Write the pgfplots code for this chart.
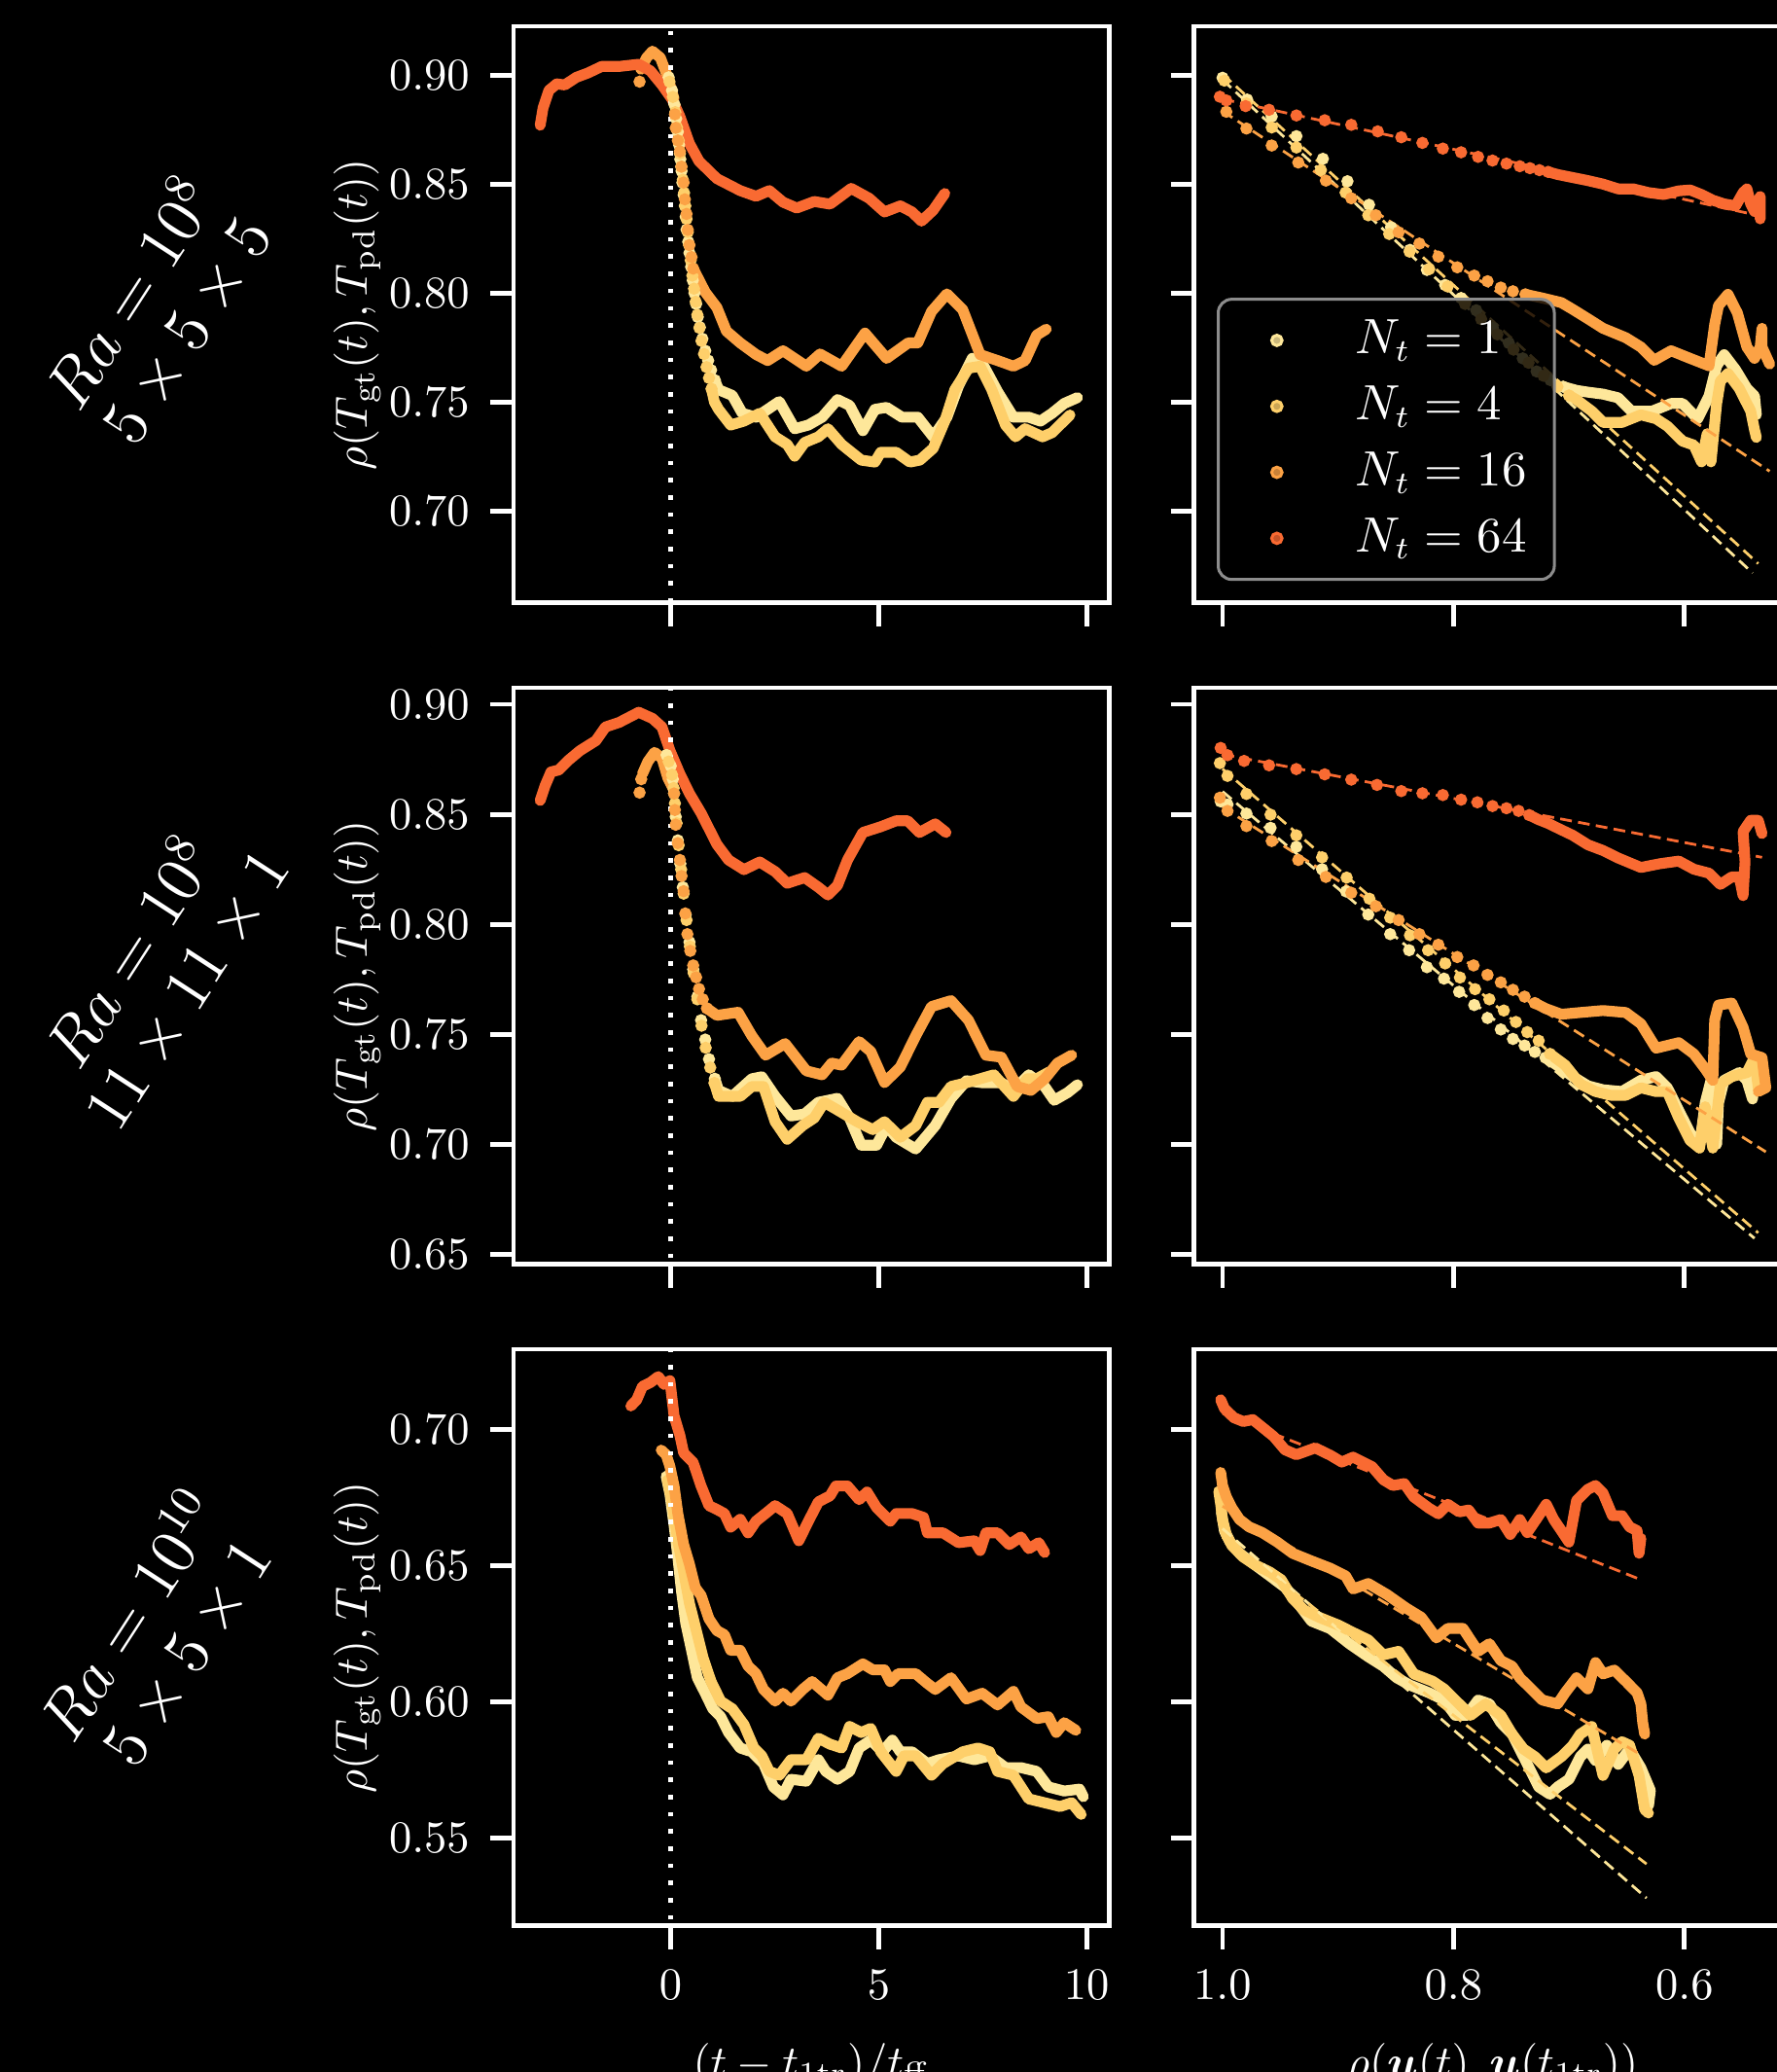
\documentclass[border=0pt]{standalone}
\usepackage{pgfplots}
\pgfplotsset{compat=1.18}
\usepackage{amsmath,bm}
\definecolor{c1}{HTML}{FEE79A}
\definecolor{c4}{HTML}{FECF6A}
\definecolor{c16}{HTML}{FCA245}
\definecolor{c64}{HTML}{F96A32}
\tikzset{rowlab/.style={white, rotate=57, align=center, font=\fontsize{13.6}{14.7}\selectfont}}
\pgfplotsset{
  base/.style={
    scale only axis, width=131.73pt, height=127.41pt, anchor=south west,
    axis line style={white, line width=1pt},
    tick style={white, line width=1pt},
    major tick length=5.2pt, tick align=outside,
    xtick pos=bottom, ytick pos=left,
    ticklabel style={white, font=\fontsize{10}{12}\selectfont},
    xticklabel style={yshift=-1.2pt},
    yticklabel style={xshift=-1pt,/pgf/number format/.cd, fixed, fixed zerofill, precision=2},
    label style={white, font=\fontsize{10}{12}\selectfont},
    clip=true,
  },
  leftcol/.style={base, xmin=-3.78, xmax=10.55, xtick={0,5,10},
    ylabel={$\rho(T_{\mathrm{gt}}(t),T_{\mathrm{pd}}(t))$},
    ylabel style={at={(axis description cs:-0.2627,0.5)}, anchor=center}},
  rightcol/.style={base, x dir=reverse, xmin=0.5085, xmax=1.0246, xtick={1.0,0.8,0.6},
    yticklabels={},
    xticklabel style={/pgf/number format/.cd, fixed, fixed zerofill, precision=1}},
  dense/.style={line width=2.4pt, line join=round, line cap=round, no marks, forget plot},
  sparse/.style={only marks, mark=*, mark size=1.15pt, forget plot},
  fit/.style={line width=0.6pt, dash pattern=on 2.6pt off 1.4pt, no marks, forget plot},
  vline/.style={white, line width=1pt, dash pattern=on 1pt off 2.8pt, no marks, forget plot},
}
\begin{document}
\begin{tikzpicture}
\fill[black] (0pt,0pt) rectangle (392.8pt,457.95pt);
\useasboundingbox (0pt,0pt) rectangle (392.8pt,457.95pt);
\clip (0pt,0pt) rectangle (392.8pt,457.95pt);

\node[rowlab] at (34.8pt,389.2pt) {$Ra=10^{8}$\\$5\times5\times5$};
\node[rowlab] at (34.8pt,243.5pt) {$Ra=10^{8}$\\$11\times11\times1$};
\node[rowlab] at (34.8pt,97.0pt) {$Ra=10^{10}$\\$5\times5\times1$};

% ================= ROW 1 LEFT
\begin{axis}[leftcol, at={(113.52pt,324.71pt)}, ymin=0.6578, ymax=0.9224,
  ytick={0.70,0.75,0.80,0.85,0.90}, xticklabels={}]
\addplot[sparse,c1] coordinates {(-0.05,0.899)(0.03,0.893)(0.09,0.8865)(0.13,0.880)(0.17,0.874)(0.20,0.868)(0.23,0.8614)(0.26,0.856)(0.28,0.8507)(0.31,0.845)(0.34,0.840)(0.36,0.835)(0.38,0.8291)(0.42,0.8235)(0.45,0.8184)(0.49,0.812)(0.53,0.8058)(0.57,0.800)(0.61,0.795)(0.65,0.789)(0.70,0.7843)(0.76,0.779)(0.83,0.7735)(0.90,0.769)(0.97,0.7646)(1.06,0.760)};
\addplot[dense,c1] coordinates {(1.06,0.760)(1.15,0.7556)(1.48,0.753)(1.72,0.7448)(2.05,0.743)(2.61,0.7502)(2.98,0.7377)(3.31,0.7394)(3.64,0.743)(4.01,0.7511)(4.30,0.7484)(4.62,0.7368)(4.91,0.7466)(5.19,0.7475)(5.56,0.743)(5.94,0.743)(6.31,0.734)(6.64,0.743)(6.92,0.7574)(7.25,0.770)(7.53,0.7664)(7.86,0.7547)(8.24,0.743)(8.61,0.743)(8.89,0.7412)(9.17,0.7448)(9.46,0.7493)(9.78,0.752)};
\addplot[sparse,c4] coordinates {(-0.03,0.897)(0.05,0.890)(0.11,0.883)(0.15,0.876)(0.19,0.870)(0.22,0.864)(0.25,0.858)(0.29,0.852)(0.32,0.846)(0.35,0.840)(0.38,0.834)(0.41,0.828)(0.44,0.822)(0.48,0.815)(0.52,0.808)(0.56,0.802)(0.60,0.796)(0.64,0.790)(0.69,0.784)(0.74,0.778)(0.80,0.772)(0.86,0.766)(0.92,0.761)(0.98,0.756)};
\addplot[dense,c4] coordinates {(0.98,0.756)(1.05,0.750)(1.15,0.7466)(1.44,0.7394)(1.76,0.7412)(2.14,0.7448)(2.51,0.734)(2.80,0.7305)(2.98,0.7251)(3.22,0.7314)(3.55,0.734)(3.78,0.7377)(4.11,0.7305)(4.58,0.7233)(4.91,0.7224)(5.05,0.7269)(5.42,0.7269)(5.75,0.7224)(5.99,0.7233)(6.31,0.7287)(6.59,0.7412)(6.83,0.7556)(7.16,0.7655)(7.44,0.7664)(7.72,0.7556)(8.05,0.7394)(8.29,0.734)(8.52,0.7377)(8.94,0.734)(9.17,0.7359)(9.60,0.744)};
\addplot[sparse,c16] coordinates {(-0.75,0.897)(0.10,0.882)(0.12,0.8758)(0.17,0.870)(0.22,0.865)(0.26,0.858)(0.31,0.8507)(0.34,0.843)(0.38,0.8363)(0.41,0.829)(0.45,0.822)(0.50,0.8165)(0.54,0.8112)};
\addplot[dense,c16] coordinates {(-0.72,0.9027)(-0.58,0.908)(-0.44,0.911)(-0.25,0.908)(-0.07,0.899)(0.08,0.889)};
\addplot[dense,c16] coordinates {(0.54,0.8112)(0.83,0.8004)(1.11,0.7933)(1.34,0.7825)(1.67,0.7771)(2.05,0.7718)(2.33,0.769)(2.70,0.7735)(3.26,0.7664)(3.59,0.772)(4.11,0.7664)(4.67,0.7816)(5.19,0.7700)(5.71,0.7771)(5.94,0.7771)(6.27,0.7915)(6.64,0.7996)(7.02,0.7924)(7.44,0.7717)(7.86,0.769)(8.24,0.7664)(8.52,0.769)(8.80,0.7807)(9.03,0.7834)};
\addplot[dense,c64] coordinates {(-3.14,0.877)(-3.07,0.885)(-2.93,0.893)(-2.74,0.896)(-2.55,0.8955)(-2.27,0.899)(-1.99,0.901)(-1.66,0.904)(-1.24,0.904)(-0.77,0.905)(-0.49,0.902)(-0.21,0.8955)(0.03,0.889)(0.22,0.881)(0.45,0.8686)(0.68,0.8605)(1.11,0.8525)(1.67,0.847)(2.05,0.8444)(2.37,0.847)(2.70,0.8417)(3.03,0.839)(3.45,0.842)(3.83,0.8408)(4.34,0.848)(4.77,0.8435)(5.14,0.8372)(5.52,0.840)(5.80,0.8372)(6.03,0.833)(6.31,0.838)(6.59,0.8457)};
\addplot[vline] coordinates {(0,0.5)(0,1.0)};
\end{axis}

% ================= ROW 1 RIGHT
\begin{axis}[rightcol, at={(263.96pt,324.71pt)}, ymin=0.6578, ymax=0.9224,
  ytick={0.70,0.75,0.80,0.85,0.90}, xticklabels={},
  legend style={at={(0.038,0.038)}, anchor=south west, draw=white!55!black, fill=black,
    fill opacity=0.8, text opacity=1, rounded corners=3pt, line width=0.65pt,
    text=white, font=\fontsize{10.5}{12.5}\selectfont, inner xsep=4.1pt, inner ysep=2.6pt,
    /tikz/row sep=1.6pt, /tikz/column sep=6.5pt},
  legend cell align=left]
\addlegendimage{legend image code/.code={\path (0cm,0cm) -- (0.6cm,0cm); \fill[c1] (0.3cm,0cm) circle (1.15pt);}}
\addlegendimage{legend image code/.code={\path (0cm,0cm) -- (0.6cm,0cm); \fill[c4] (0.3cm,0cm) circle (1.15pt);}}
\addlegendimage{legend image code/.code={\path (0cm,0cm) -- (0.6cm,0cm); \fill[c16] (0.3cm,0cm) circle (1.15pt);}}
\addlegendimage{legend image code/.code={\path (0cm,0cm) -- (0.6cm,0cm); \fill[c64] (0.3cm,0cm) circle (1.15pt);}}
\legend{$N_t=1$,$N_t=4$,$N_t=16$,$N_t=64$}
\addplot[sparse,c1] coordinates {(1.0,0.8988)(0.9787,0.8888)(0.9574,0.881)(0.936,0.872)(0.9131,0.8616)(0.8918,0.8513)(0.8731,0.8405)(0.8541,0.8302)(0.8377,0.8198)(0.8230,0.8106)(0.8072,0.8037)(0.7934,0.7977)(0.7803,0.7921)(0.766,0.784)(0.752,0.777)(0.740,0.770)(0.728,0.7640)(0.716,0.7600)(0.705,0.7570)};
\addplot[dense,c1] coordinates {(0.705,0.7570)(0.6934,0.7553)(0.6836,0.7545)(0.6705,0.7536)(0.6574,0.7519)(0.6459,0.7458)(0.6279,0.7458)(0.6115,0.7493)(0.6016,0.7493)(0.5885,0.7423)(0.5787,0.7527)(0.5721,0.7666)(0.5656,0.7717)(0.5557,0.7648)(0.5459,0.7562)(0.5393,0.7527)(0.5377,0.7441)};
\addplot[sparse,c4] coordinates {(0.9984,0.8975)(0.9793,0.8870)(0.9574,0.8760)(0.936,0.8668)(0.9148,0.8564)(0.8934,0.8461)(0.8738,0.8357)(0.8557,0.8271)(0.838,0.8190)(0.821,0.8110)(0.805,0.8030)(0.790,0.7950)(0.776,0.7880)(0.762,0.7810)(0.748,0.7740)(0.735,0.7680)(0.722,0.7620)(0.710,0.7570)(0.700,0.7530)};
\addplot[dense,c4] coordinates {(0.700,0.7530)(0.6934,0.7510)(0.6803,0.7458)(0.6705,0.7406)(0.6541,0.7406)(0.6377,0.7441)(0.6246,0.7423)(0.6148,0.7389)(0.6016,0.7320)(0.5918,0.7302)(0.5852,0.7225)(0.5803,0.7354)(0.5770,0.7225)(0.5721,0.7493)(0.5689,0.7596)(0.5623,0.7631)(0.5525,0.7562)(0.5426,0.7458)(0.5393,0.7372)(0.5377,0.7337)};
\addplot[sparse,c16] coordinates {(0.9967,0.8832)(0.9793,0.8755)(0.9574,0.8677)(0.9344,0.8599)(0.9105,0.8516)(0.8885,0.8435)(0.8672,0.8357)(0.8475,0.8279)(0.8295,0.8227)(0.8131,0.8167)(0.7967,0.8118)(0.7820,0.808)(0.7705,0.8054)(0.7590,0.8025)(0.7485,0.8008)(0.7377,0.7994)};
\addplot[dense,c16] coordinates {(0.7377,0.7994)(0.7230,0.7977)(0.7066,0.7956)(0.6967,0.7925)(0.6836,0.7882)(0.6705,0.7838)(0.6508,0.7795)(0.6377,0.7752)(0.6262,0.7691)(0.6115,0.7735)(0.5951,0.77)(0.5787,0.7666)(0.5738,0.7856)(0.5705,0.7942)(0.5623,0.7994)(0.5541,0.7908)(0.5459,0.7752)(0.5393,0.77)(0.5344,0.7752)(0.5328,0.7838)(0.5328,0.7752)(0.5262,0.7674)};
\addplot[sparse,c64] coordinates {(1.0023,0.8901)(0.9967,0.8884)(0.980,0.8858)(0.9597,0.8841)(0.936,0.8815)(0.9115,0.8793)(0.8885,0.8772)(0.8656,0.8742)(0.8452,0.8715)(0.8269,0.8689)(0.8092,0.8663)(0.7934,0.8646)(0.7787,0.8625)(0.7662,0.8608)(0.7541,0.8594)(0.7426,0.8582)(0.7338,0.8573)(0.7256,0.8564)(0.7180,0.8556)};
\addplot[dense,c64] coordinates {(0.7180,0.8556)(0.7098,0.8544)(0.6967,0.853)(0.6836,0.8516)(0.6705,0.8500)(0.6574,0.8478)(0.6443,0.8478)(0.6311,0.8461)(0.6180,0.8452)(0.6049,0.8469)(0.5951,0.8473)(0.5852,0.8452)(0.5754,0.8426)(0.5656,0.8409)(0.5557,0.8400)(0.5492,0.8461)(0.5459,0.8478)(0.5426,0.8409)(0.5393,0.8374)(0.5344,0.8443)(0.5344,0.834)};
\addplot[fit,c1] coordinates {(1.0,0.8979)(0.541,0.6715)};
\addplot[fit,c4] coordinates {(1.0,0.9005)(0.5361,0.6758)};
\addplot[fit,c16] coordinates {(1.0,0.8835)(0.5262,0.7182)};
\addplot[fit,c64] coordinates {(1.0,0.889)(0.536,0.8356)};
\end{axis}

% ================= ROW 2 LEFT
\begin{axis}[leftcol, at={(113.52pt,178.51pt)}, ymin=0.6456, ymax=0.9075,
  ytick={0.65,0.70,0.75,0.80,0.85,0.90}, xticklabels={}]
\addplot[sparse,c1] coordinates {(-0.1,0.877)(0.0,0.872)(0.05,0.866)(0.08,0.8595)(0.12,0.8489)(0.17,0.8382)(0.23,0.8276)(0.29,0.8169)(0.36,0.8045)(0.45,0.792)(0.54,0.7796)(0.64,0.7672)(0.73,0.7565)(0.83,0.7477)(0.92,0.7388)(1.06,0.7299)};
\addplot[dense,c1] coordinates {(1.06,0.7299)(1.15,0.7246)(1.48,0.7219)(1.95,0.7299)(2.19,0.7308)(2.51,0.7219)(2.89,0.713)(3.22,0.7139)(3.55,0.7192)(4.01,0.721)(4.30,0.7121)(4.58,0.6997)(4.95,0.6997)(5.19,0.7086)(5.42,0.7033)(5.89,0.698)(6.36,0.7086)(6.74,0.721)(7.11,0.729)(7.49,0.7281)(7.95,0.7281)(8.24,0.7246)(8.61,0.7317)(8.99,0.7264)(9.22,0.7201)(9.55,0.7237)(9.78,0.7272)};
\addplot[sparse,c4] coordinates {(-0.05,0.874)(0.03,0.868)(0.07,0.862)(0.10,0.855)(0.14,0.846)(0.19,0.836)(0.25,0.825)(0.31,0.814)(0.38,0.802)(0.46,0.790)(0.55,0.778)(0.64,0.766)(0.74,0.754)(0.84,0.744)(0.95,0.735)(1.05,0.728)};
\addplot[dense,c4] coordinates {(1.05,0.728)(1.15,0.7219)(1.67,0.7219)(1.95,0.7264)(2.23,0.7264)(2.51,0.7104)(2.80,0.7024)(3.17,0.7086)(3.45,0.7121)(3.69,0.7192)(4.01,0.7157)(4.48,0.7104)(4.86,0.7068)(5.14,0.7104)(5.52,0.7033)(5.89,0.7086)(6.17,0.7192)(6.45,0.7192)(6.74,0.7264)(7.11,0.7281)(7.77,0.7317)(8.24,0.7219)(8.57,0.7299)(8.80,0.7299)(9.10,0.733)};
\addplot[sparse,c16] coordinates {(-0.75,0.8599)(-0.71,0.866)(0.08,0.8595)(0.10,0.852)(0.12,0.8453)(0.17,0.837)(0.22,0.8293)(0.26,0.822)(0.31,0.8151)(0.35,0.805)(0.40,0.7956)(0.47,0.788)(0.54,0.7814)(0.61,0.776)(0.68,0.7707)(0.77,0.766)(0.87,0.7619)};
\addplot[dense,c16] coordinates {(-0.68,0.8684)(-0.55,0.874)(-0.39,0.8782)(-0.21,0.8755)(-0.07,0.8666)(0.05,0.862)};
\addplot[dense,c16] coordinates {(0.87,0.7619)(1.11,0.7587)(1.62,0.7601)(1.95,0.7494)(2.28,0.7406)(2.75,0.7459)(3.26,0.7335)(3.64,0.7317)(3.87,0.737)(4.11,0.7361)(4.53,0.7468)(4.81,0.7423)(5.14,0.7282)(5.52,0.7352)(5.89,0.7494)(6.27,0.7627)(6.74,0.7654)(7.16,0.7565)(7.58,0.7406)(7.95,0.7397)(8.33,0.7264)(8.66,0.7246)(9.0,0.730)(9.3,0.737)(9.64,0.7406)};
\addplot[dense,c64] coordinates {(-3.14,0.8563)(-3.02,0.8631)(-2.88,0.8693)(-2.69,0.8702)(-2.46,0.8746)(-2.18,0.879)(-1.80,0.8835)(-1.57,0.8897)(-1.24,0.8918)(-0.77,0.8964)(-0.44,0.8936)(-0.21,0.8897)(-0.02,0.879)(0.22,0.8684)(0.45,0.8595)(0.73,0.8506)(1.11,0.8364)(1.39,0.8293)(1.76,0.8249)(2.14,0.8284)(2.51,0.824)(2.80,0.8187)(3.22,0.8213)(3.55,0.8169)(3.78,0.8134)(4.01,0.8178)(4.25,0.8293)(4.62,0.8418)(5.05,0.8444)(5.42,0.8471)(5.70,0.8471)(5.98,0.8418)(6.36,0.8457)(6.62,0.8418)};
\addplot[vline] coordinates {(0,0.5)(0,1.0)};
\end{axis}

% ================= ROW 2 RIGHT
\begin{axis}[rightcol, at={(263.96pt,178.51pt)}, ymin=0.6456, ymax=0.9075,
  ytick={0.65,0.70,0.75,0.80,0.85,0.90}, xticklabels={}]
\addplot[sparse,c1] coordinates {(1.0016,0.8559)(0.9957,0.8545)(0.9793,0.8504)(0.9584,0.8439)(0.9361,0.8353)(0.9138,0.8251)(0.8930,0.8150)(0.8738,0.8045)(0.8548,0.7956)(0.8384,0.7883)(0.8230,0.7806)(0.8082,0.7754)(0.7951,0.7694)(0.7820,0.7634)(0.7705,0.7575)(0.7590,0.7523)(0.7485,0.7480)(0.7384,0.7450)(0.7295,0.7421)(0.7203,0.7395)};
\addplot[dense,c1] coordinates {(0.7203,0.7395)(0.7105,0.7361)(0.6967,0.7309)(0.6836,0.7267)(0.6705,0.7249)(0.6541,0.7241)(0.6377,0.7292)(0.6246,0.7309)(0.6148,0.7258)(0.6049,0.7155)(0.5951,0.7053)(0.5869,0.6993)(0.5820,0.7189)(0.5770,0.7292)(0.5721,0.7001)(0.5705,0.7189)(0.5656,0.7292)(0.5525,0.7327)(0.5459,0.7292)(0.5410,0.7207)(0.5393,0.7344)(0.5328,0.7344)};
\addplot[sparse,c4] coordinates {(1.0023,0.8733)(0.9957,0.8675)(0.9793,0.8593)(0.9584,0.8499)(0.9361,0.8405)(0.9138,0.8305)(0.8925,0.8213)(0.8728,0.8117)(0.8548,0.8031)(0.8377,0.7951)(0.8220,0.7883)(0.8072,0.7823)(0.7944,0.7759)(0.7813,0.7706)(0.7689,0.7660)(0.7564,0.7609)(0.7459,0.7557)(0.7361,0.7511)(0.7262,0.7472)(0.7164,0.7412)};
\addplot[dense,c4] coordinates {(0.7164,0.7412)(0.7033,0.7361)(0.6902,0.7275)(0.6770,0.7241)(0.6639,0.7224)(0.6508,0.7224)(0.6377,0.7258)(0.6246,0.7241)(0.6148,0.7241)(0.6049,0.7121)(0.5951,0.7019)(0.5869,0.6984)(0.5820,0.7172)(0.5754,0.6984)(0.5689,0.7275)(0.5590,0.7309)(0.5459,0.7327)(0.5393,0.7395)(0.5361,0.7258)};
\addplot[sparse,c16] coordinates {(1.0023,0.8576)(0.9957,0.8516)(0.9793,0.8447)(0.9574,0.8379)(0.9344,0.8293)(0.9105,0.8216)(0.8885,0.8144)(0.8672,0.8083)(0.8475,0.8020)(0.8295,0.7956)(0.8131,0.7908)(0.7967,0.7852)(0.7826,0.7814)(0.7705,0.7771)(0.7590,0.7737)(0.7485,0.7703)(0.7384,0.7672)(0.7295,0.7643)};
\addplot[dense,c16] coordinates {(0.7295,0.7643)(0.7197,0.7617)(0.7066,0.7592)(0.6902,0.7600)(0.6705,0.7609)(0.6508,0.7600)(0.6377,0.7549)(0.6246,0.7438)(0.6049,0.7463)(0.5918,0.7412)(0.5820,0.7344)(0.5754,0.7292)(0.5738,0.7566)(0.5705,0.7634)(0.5590,0.7643)(0.5492,0.7532)(0.5426,0.7412)(0.5328,0.7395)(0.5295,0.7258)(0.5361,0.7241)};
\addplot[sparse,c64] coordinates {(1.0016,0.8802)(0.9957,0.8769)(0.9813,0.8743)(0.9597,0.8723)(0.9361,0.8706)(0.9115,0.8682)(0.8885,0.8658)(0.8662,0.8634)(0.8452,0.8606)(0.8269,0.8596)(0.8092,0.8588)(0.7934,0.8567)(0.7793,0.8555)(0.7662,0.8538)(0.7541,0.8528)(0.7436,0.8516)(0.7344,0.8497)};
\addplot[dense,c64] coordinates {(0.7344,0.8497)(0.7262,0.8476)(0.7180,0.8459)(0.7082,0.8434)(0.6967,0.8405)(0.6836,0.8362)(0.6705,0.8336)(0.6574,0.8302)(0.6377,0.8259)(0.6213,0.8276)(0.6049,0.8288)(0.5918,0.8251)(0.5787,0.8233)(0.5689,0.8182)(0.5590,0.8216)(0.5525,0.8216)(0.5492,0.8131)(0.5475,0.8285)(0.5492,0.8422)(0.5426,0.8473)(0.5361,0.8473)(0.5328,0.8413)};
\addplot[fit,c1] coordinates {(1.0,0.8604)(0.5393,0.6574)};
\addplot[fit,c4] coordinates {(1.0,0.8707)(0.5361,0.6599)};
\addplot[fit,c16] coordinates {(1.0,0.8533)(0.5295,0.6967)};
\addplot[fit,c64] coordinates {(1.0,0.8773)(0.5328,0.8305)};
\end{axis}

% ================= ROW 3 LEFT
\begin{axis}[leftcol, at={(113.52pt,32.31pt)}, ymin=0.5177, ymax=0.7294,
  ytick={0.55,0.60,0.65,0.70},
  xlabel={$(t-t_{\mathrm{1tr}})/t_{\mathrm{ff}}$},
  xlabel style={at={(axis description cs:0.5,0)}, anchor=north, yshift=-22.5pt}]
\addplot[dense,c1] coordinates {(-0.11,0.6828)(-0.02,0.6763)(0.08,0.6648)(0.17,0.6533)(0.26,0.6404)(0.36,0.6289)(0.50,0.6189)(0.64,0.6088)(0.83,0.6031)(1.01,0.5974)(1.20,0.5945)(1.39,0.5887)(1.67,0.583)(1.95,0.5816)(2.23,0.5773)(2.47,0.5687)(2.70,0.5658)(2.89,0.5715)(3.26,0.5708)(3.55,0.5787)(3.73,0.5744)(4.01,0.5715)(4.30,0.5744)(4.53,0.583)(4.81,0.5859)(5.09,0.5816)(5.33,0.5859)(5.52,0.5816)(5.80,0.5816)(6.17,0.5773)(6.45,0.5787)(6.92,0.5801)(7.30,0.5787)(7.67,0.5801)(8.05,0.5758)(8.42,0.5758)(8.80,0.5744)(9.08,0.5687)(9.46,0.5672)(9.83,0.5679)(9.92,0.5651)};
\addplot[dense,c4] coordinates {(-0.08,0.6814)(0.03,0.6734)(0.17,0.6591)(0.31,0.6476)(0.45,0.6361)(0.64,0.6246)(0.78,0.616)(0.97,0.6074)(1.20,0.6002)(1.48,0.5974)(1.76,0.5916)(2.00,0.583)(2.19,0.5801)(2.37,0.5744)(2.61,0.5730)(2.89,0.5787)(3.26,0.5787)(3.55,0.5866)(3.83,0.5844)(4.11,0.583)(4.30,0.5909)(4.58,0.5887)(4.81,0.5902)(5.05,0.5816)(5.42,0.5744)(5.61,0.5801)(5.89,0.5801)(6.27,0.5730)(6.55,0.5773)(7.02,0.5816)(7.39,0.583)(7.67,0.5816)(7.86,0.5744)(8.24,0.573)(8.61,0.5643)(8.99,0.5629)(9.36,0.5615)(9.64,0.5629)(9.87,0.5586)};
\addplot[dense,c16] coordinates {(-0.23,0.6924)(-0.11,0.6907)(-0.02,0.6864)(0.08,0.6792)(0.17,0.6691)(0.31,0.6577)(0.45,0.6505)(0.59,0.6419)(0.73,0.639)(0.92,0.6304)(1.11,0.6261)(1.29,0.6246)(1.44,0.6189)(1.67,0.6189)(1.86,0.6131)(2.05,0.6103)(2.23,0.6045)(2.51,0.6002)(2.70,0.6031)(2.89,0.6002)(3.17,0.6045)(3.40,0.6074)(3.78,0.6024)(4.01,0.6088)(4.25,0.6103)(4.62,0.6139)(4.86,0.6117)(5.14,0.6117)(5.28,0.6074)(5.47,0.6103)(5.89,0.6103)(6.17,0.6067)(6.36,0.6045)(6.74,0.6088)(7.11,0.601)(7.49,0.6031)(7.86,0.5988)(8.24,0.6038)(8.42,0.5981)(8.80,0.5938)(9.08,0.5945)(9.27,0.5887)(9.46,0.5923)(9.74,0.5895)};
\addplot[dense,c64] coordinates {(-0.96,0.7086)(-0.82,0.7108)(-0.68,0.7158)(-0.49,0.7172)(-0.30,0.7194)(-0.16,0.7165)(-0.02,0.7179)(0.08,0.705)(0.22,0.6978)(0.31,0.6914)(0.54,0.6878)(0.73,0.6792)(0.92,0.672)(1.11,0.6706)(1.29,0.6691)(1.44,0.6641)(1.67,0.667)(1.86,0.662)(2.05,0.6663)(2.28,0.6691)(2.51,0.672)(2.80,0.6691)(3.08,0.6591)(3.31,0.6663)(3.55,0.6734)(3.83,0.6756)(3.97,0.6792)(4.25,0.6792)(4.53,0.6742)(4.72,0.677)(4.95,0.6713)(5.28,0.6663)(5.42,0.6691)(5.80,0.6691)(6.08,0.6677)(6.17,0.662)(6.55,0.662)(6.92,0.6584)(7.30,0.6591)(7.44,0.6555)(7.58,0.662)(7.86,0.662)(8.14,0.6577)(8.42,0.6605)(8.61,0.6562)(8.85,0.6584)(8.99,0.6548)};
\addplot[vline] coordinates {(0,0.4)(0,1.0)};
\end{axis}

% ================= ROW 3 RIGHT
\begin{axis}[rightcol, at={(263.96pt,32.31pt)}, ymin=0.5177, ymax=0.7294,
  ytick={0.55,0.60,0.65,0.70},
  xlabel={$\rho(\bm{u}(t),\bm{u}(t_{\mathrm{1tr}}))$},
  xlabel style={at={(axis description cs:0.5,0)}, anchor=north, yshift=-22.5pt}]
\addplot[dense,c1] coordinates {(1.001,0.6697)(0.9984,0.6628)(0.9934,0.6586)(0.9852,0.6545)(0.9721,0.6503)(0.9590,0.6462)(0.9459,0.6420)(0.9328,0.6351)(0.9230,0.6296)(0.9066,0.6268)(0.8902,0.6213)(0.8738,0.6165)(0.8607,0.6130)(0.8492,0.6088)(0.8377,0.6061)(0.8213,0.6033)(0.8082,0.6006)(0.7984,0.5950)(0.7885,0.5950)(0.7787,0.6006)(0.7689,0.5992)(0.7590,0.5923)(0.7492,0.5881)(0.7393,0.5798)(0.7262,0.5687)(0.7164,0.5660)(0.7098,0.5687)(0.7000,0.5715)(0.6902,0.5798)(0.6836,0.5826)(0.6770,0.5784)(0.6672,0.5840)(0.6574,0.5770)(0.6475,0.5826)(0.6377,0.5757)(0.6295,0.5674)(0.6311,0.5618)};
\addplot[dense,c4] coordinates {(1.0033,0.6773)(1.0016,0.6725)(1.0,0.6669)(0.9967,0.6614)(0.9918,0.6573)(0.9820,0.6531)(0.9721,0.6503)(0.9590,0.6476)(0.9492,0.6448)(0.9393,0.6379)(0.9295,0.6337)(0.9164,0.6310)(0.9000,0.6282)(0.8869,0.6254)(0.8738,0.6227)(0.8607,0.6172)(0.8475,0.6185)(0.8344,0.6102)(0.8180,0.6075)(0.8082,0.6047)(0.7951,0.5992)(0.7852,0.5950)(0.7721,0.5992)(0.7590,0.5950)(0.7492,0.5881)(0.7393,0.5826)(0.7295,0.5798)(0.7197,0.5757)(0.7066,0.5798)(0.6967,0.5840)(0.6902,0.5881)(0.6803,0.5909)(0.6705,0.5729)(0.6607,0.5826)(0.6541,0.5853)(0.6475,0.5840)(0.6393,0.5729)(0.6344,0.5604)(0.6311,0.5591)};
\addplot[dense,c16] coordinates {(1.0016,0.6842)(1.0,0.6794)(0.9967,0.6752)(0.9918,0.6711)(0.9852,0.6669)(0.9770,0.6642)(0.9656,0.6621)(0.9525,0.6586)(0.9393,0.6545)(0.9230,0.6517)(0.9066,0.6490)(0.8934,0.6462)(0.8869,0.6414)(0.8738,0.6434)(0.8574,0.6393)(0.8410,0.6344)(0.8279,0.6310)(0.8148,0.6234)(0.8049,0.6269)(0.7918,0.6269)(0.7787,0.6185)(0.7689,0.6213)(0.7590,0.6151)(0.7492,0.6130)(0.7426,0.6088)(0.7328,0.6047)(0.7230,0.6006)(0.7098,0.5992)(0.7033,0.6033)(0.6934,0.6088)(0.6836,0.6047)(0.6770,0.6144)(0.6705,0.6102)(0.6607,0.6116)(0.6508,0.6075)(0.6410,0.6033)(0.6377,0.5992)(0.6361,0.5923)(0.6344,0.5881)};
\addplot[dense,c64] coordinates {(1.0016,0.7109)(0.9984,0.7077)(0.9902,0.7043)(0.9820,0.7029)(0.9738,0.7036)(0.9656,0.7008)(0.9557,0.6974)(0.9459,0.6925)(0.9361,0.6907)(0.9197,0.6932)(0.9066,0.6905)(0.8967,0.6880)(0.8869,0.6898)(0.8705,0.6863)(0.8607,0.6815)(0.8525,0.6794)(0.8426,0.6801)(0.8344,0.6752)(0.8213,0.6711)(0.8131,0.6690)(0.8049,0.6725)(0.7951,0.6697)(0.7869,0.6704)(0.7787,0.6656)(0.7689,0.6656)(0.7590,0.6669)(0.7508,0.6614)(0.7426,0.6669)(0.7361,0.6621)(0.7262,0.6683)(0.7197,0.6725)(0.7131,0.6669)(0.7066,0.6628)(0.7000,0.6586)(0.6934,0.6739)(0.6836,0.6780)(0.6770,0.6794)(0.6705,0.6766)(0.6623,0.6683)(0.6541,0.6683)(0.6475,0.6642)(0.6410,0.6628)(0.6393,0.6545)(0.6377,0.6600)};
\addplot[fit,c1] coordinates {(1.0,0.6636)(0.6328,0.5279)};
\addplot[fit,c4] coordinates {(1.0,0.6603)(0.6328,0.5404)};
\addplot[fit,c16] coordinates {(1.0,0.6718)(0.6377,0.5805)};
\addplot[fit,c64] coordinates {(1.0,0.7059)(0.6377,0.6448)};
\end{axis}
\end{tikzpicture}
\end{document}
